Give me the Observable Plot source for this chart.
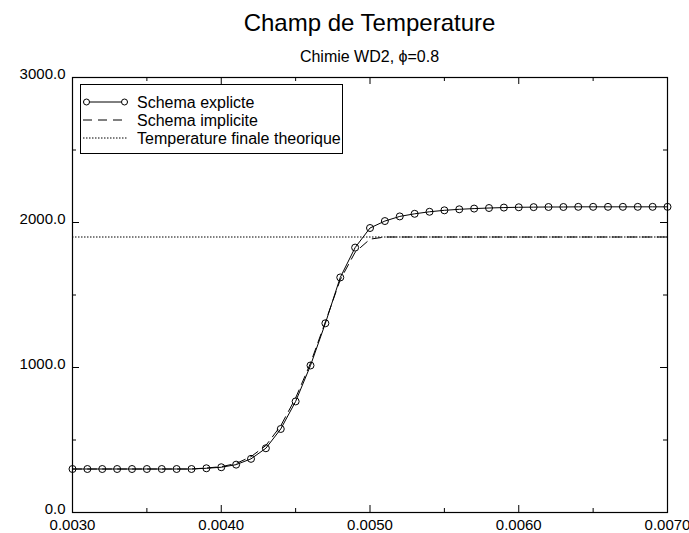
<!DOCTYPE html>
<html><head><meta charset="utf-8">
<script src="https://cdn.jsdelivr.net/npm/d3@7"></script>
<script src="https://cdn.jsdelivr.net/npm/@observablehq/plot@0.6"></script>
<style>
body{margin:0;background:#fff;font-family:"Liberation Sans",Arial,Helvetica,sans-serif;color:#000;}
#wrap{position:relative;width:689px;height:533px;overflow:hidden;}
#title{position:absolute;left:72px;width:595px;top:0;height:46px;line-height:46px;text-align:center;font-size:24px;}
#subtitle{position:absolute;left:72px;width:595px;top:46px;height:22px;line-height:22px;text-align:center;font-size:16px;}
#chart{position:absolute;left:0;top:68px;}
#legend{position:absolute;left:80px;top:84px;}
</style></head><body>
<div id="wrap">
<div id="title">Champ de Temperature</div>
<div id="subtitle">Chimie WD2, ϕ=0.8</div>
<div id="chart"></div>
<div id="legend"></div>
</div>
<script>
const xValues = [0.0030,0.0031,0.0032,0.0033,0.0034,0.0035,0.0036,0.0037,0.0038,0.0039,
  0.0040,0.0041,0.0042,0.0043,0.0044,0.0045,0.0046,0.0047,0.0048,0.0049,
  0.0050,0.0051,0.0052,0.0053,0.0054,0.0055,0.0056,0.0057,0.0058,0.0059,
  0.0060,0.0061,0.0062,0.0063,0.0064,0.0065,0.0066,0.0067,0.0068,0.0069,0.0070];
const explicitT = [300,300,300,300,300,300,300,300,300,305,
  312,330,370,443,576,766,1014,1305,1621,1827,
  1962,2010,2042,2060,2074,2084,2091,2096,2100,2103,
  2105,2106,2107,2107,2108,2108,2108,2108,2108,2108,2108];
const implicitT = [300,300,300,300,300,300,300,300,300,307,
  316,338,385,462,598,790,1030,1315,1605,1795,
  1885,1900,1900,1900,1900,1900,1900,1900,1900,1900,
  1900,1900,1900,1900,1900,1900,1900,1900,1900,1900,1900];
const finalT = 1900;
const xMajor = [0.003,0.004,0.005,0.006,0.007];
const xMajorLabels = ["0.0030","0.0040","0.0050","0.0060","0.0070"];
const xMinor = [0.0035,0.0045,0.0055,0.0065];
const yMajor = [0,1000,2000,3000];
const yMajorLabels = ["0.0","1000.0","2000.0","3000.0"];
const yMinor = [500,1500,2500];
const seriesNames = ["Schema explicte","Schema implicite","Temperature finale theorique"];

const explicitData = xValues.map((x,i)=>({x, t: explicitT[i]}));
const implicitData = xValues.map((x,i)=>({x, t: implicitT[i]}));

const W = 689, H = 465, mT = 9, mB = 21, mL = 72, mR = 22;
const innerW = W - mL - mR, innerH = H - mT - mB;
const majorLen = 7, minorLen = 4;
const tickStyle = {stroke: "black", strokeWidth: 1};

const chart = Plot.plot({
  width: W, height: H,
  marginTop: mT, marginBottom: mB, marginLeft: mL, marginRight: mR,
  style: {fontFamily: "Liberation Sans, Arial, sans-serif", fontSize: "15px", color: "black", background: "white", overflow: "visible"},
  x: {domain: [0.003, 0.007], label: null},
  y: {domain: [0, 3000], label: null},
  marks: [
    Plot.ruleY([finalT], {stroke: "black", strokeWidth: 1, strokeDasharray: "1.5,1.5"}),
    Plot.line(implicitData, {x: "x", y: "t", stroke: "black", strokeWidth: 1, strokeDasharray: "9,6"}),
    Plot.line(explicitData, {x: "x", y: "t", stroke: "black", strokeWidth: 1}),
    Plot.dot(explicitData, {x: "x", y: "t", r: 3.5, stroke: "black", fill: "none", strokeWidth: 1}),
    // inward ticks on all four sides
    Plot.tickX(xMajor, {x: d => d, insetTop: innerH - majorLen, ...tickStyle}),
    Plot.tickX(xMinor, {x: d => d, insetTop: innerH - minorLen, ...tickStyle}),
    Plot.tickX(xMajor, {x: d => d, insetBottom: innerH - majorLen, ...tickStyle}),
    Plot.tickX(xMinor, {x: d => d, insetBottom: innerH - minorLen, ...tickStyle}),
    Plot.tickY(yMajor, {y: d => d, insetRight: innerW - majorLen, ...tickStyle}),
    Plot.tickY(yMinor, {y: d => d, insetRight: innerW - minorLen, ...tickStyle}),
    Plot.tickY(yMajor, {y: d => d, insetLeft: innerW - majorLen, ...tickStyle}),
    Plot.tickY(yMinor, {y: d => d, insetLeft: innerW - minorLen, ...tickStyle}),
    Plot.frame({stroke: "black", strokeWidth: 1.2}),
    Plot.axisX({anchor: "bottom", ticks: xMajor, tickSize: 0, tickPadding: 7, label: null, tickFormat: d => xMajorLabels[xMajor.indexOf(d)]}),
    Plot.axisY({anchor: "left", ticks: yMajor, tickSize: 0, tickPadding: 7, dy: -3, label: null, tickFormat: d => yMajorLabels[yMajor.indexOf(d)]})
  ]
});
document.getElementById("chart").appendChild(chart);

// Legend (overlaid inside the plot frame)
const lw = 263, lh = 70;
const leg = d3.select("#legend").append("svg").attr("width", lw).attr("height", lh)
  .style("font-family", "Liberation Sans, Arial, sans-serif");
leg.append("rect").attr("x", 0.5).attr("y", 0.5).attr("width", lw - 1).attr("height", lh - 1)
  .attr("fill", "white").attr("stroke", "black").attr("stroke-width", 1);
const dashes = [null, "9,6", "1.5,1.5"];
seriesNames.forEach((name, i) => {
  const cy = 18 + i * 18;
  leg.append("line").attr("x1", 3).attr("x2", 48).attr("y1", cy).attr("y2", cy)
    .attr("stroke", "black").attr("stroke-width", 1).attr("stroke-dasharray", dashes[i]);
  if (i === 0) {
    [6.5, 44.5].forEach(cx => leg.append("circle").attr("cx", cx).attr("cy", cy).attr("r", 3)
      .attr("fill", "white").attr("stroke", "black"));
  }
  leg.append("text").attr("x", 57).attr("y", cy).attr("dy", "0.35em")
    .attr("font-size", 16).attr("fill", "black").text(name);
});
</script>
</body></html>
